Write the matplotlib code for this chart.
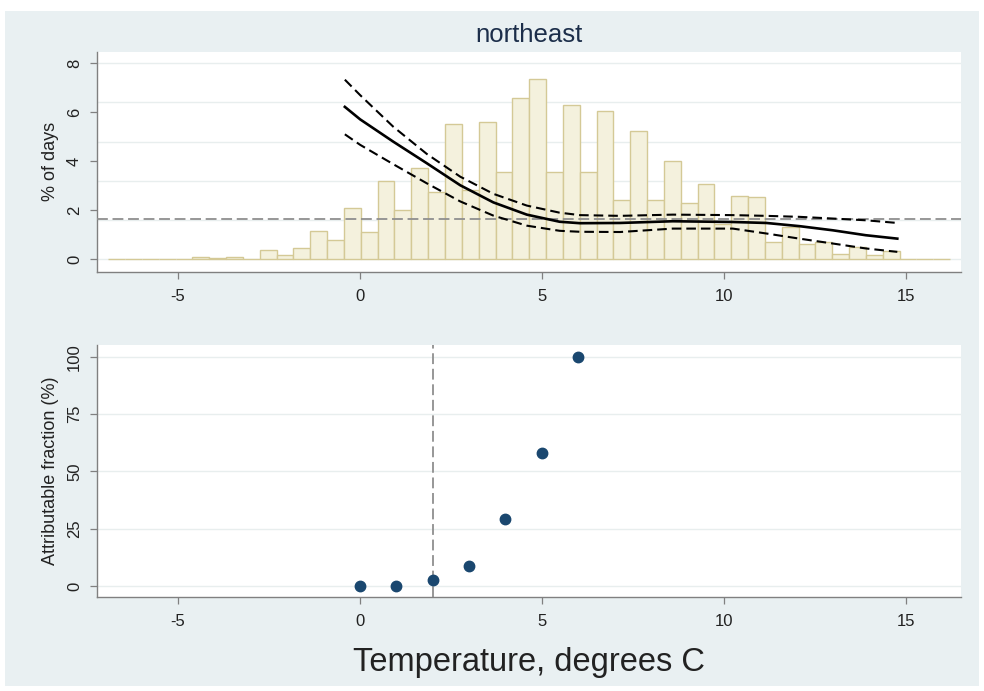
import numpy as np
import matplotlib
matplotlib.use("Agg")
import matplotlib.pyplot as plt
from matplotlib.patches import Rectangle

plt.rcParams['font.family'] = ['Liberation Sans', 'DejaVu Sans']

# ---------------- data ----------------
bin_start = -6.91
bin_width = 0.4626
pct_days = [0, 0, 0, 0, 0, 0.11, 0.05, 0.10, 0.02, 0.38,
            0.19, 0.46, 1.14, 0.78, 2.11, 1.13, 3.20, 2.00, 3.71, 2.73,
            5.52, 2.83, 5.60, 3.58, 6.57, 7.35, 3.58, 6.30, 3.58, 6.05,
            2.42, 5.22, 2.42, 3.99, 2.31, 3.06, 1.45, 2.59, 2.54, 0.69,
            1.33, 0.63, 0.72, 0.22, 0.49, 0.19, 0.34, 0, 0, 0]

curve_x = [-0.41, 0.01, 0.92, 1.84, 2.76, 3.67, 4.59, 5.49, 6.05, 7.15,
           8.60, 10.25, 11.17, 12.08, 13.00, 13.90, 14.77]
curve_mid = [6.22, 5.71, 4.80, 3.92, 3.02, 2.32, 1.82, 1.53, 1.47, 1.48,
             1.55, 1.52, 1.48, 1.35, 1.18, 0.98, 0.84]
curve_hi = [7.33, 6.70, 5.41, 4.30, 3.37, 2.67, 2.19, 1.90, 1.80, 1.77,
            1.82, 1.80, 1.77, 1.73, 1.66, 1.59, 1.48]
curve_lo = [5.10, 4.67, 3.88, 3.10, 2.36, 1.78, 1.37, 1.16, 1.12, 1.11,
            1.25, 1.25, 1.05, 0.84, 0.64, 0.44, 0.30]
ref_level = 1.63

af_temp = [0, 1, 2, 3, 4, 5, 6]
af_pct = [0.0, 0.0, 2.5, 8.7, 29.2, 58.1, 100.0]
threshold_temp = 2

x_ticks = [-5, 0, 5, 10, 15]
top_yticks = [0, 2, 4, 6, 8]
top_grid = [0, 1.6, 3.2, 4.8, 6.4, 8.0]
bot_yticks = [0, 25, 50, 75, 100]

title = "northeast"
top_ylabel = "% of days"
bot_ylabel = "Attributable fraction (%)"
xlabel = "Temperature, degrees C"

# ---------------- styling ----------------
W, H = 984, 691
fig = plt.figure(figsize=(W / 100, H / 100), dpi=100)
fig.patch.set_facecolor('white')
bg = '#e9f0f2'
fig.add_artist(Rectangle((5 / W, 5 / H), (W - 10) / W, (H - 16) / H,
                         transform=fig.transFigure, facecolor=bg,
                         edgecolor='none', zorder=0))

spine_col = '#808080'
grid_col = '#e8eeee'
ref_col = '#8f8f8f'
navy = '#1a476f'

left = 97 / W
width = (961 - 97) / W
ax1 = fig.add_axes([left, (H - 271.7) / H, width, (271.7 - 52) / H])
ax2 = fig.add_axes([left, (H - 596.7) / H, width, (596.7 - 345) / H])

xlim = (-7.22, 16.52)


def style(ax):
    ax.set_facecolor('white')
    for s in ['top', 'right']:
        ax.spines[s].set_visible(False)
    for s in ['left', 'bottom']:
        ax.spines[s].set_color(spine_col)
        ax.spines[s].set_linewidth(1.0)
    ax.tick_params(axis='both', colors=spine_col, labelcolor='#222222',
                   length=4.8, width=0.9, labelsize=12)
    ax.tick_params(axis='x', pad=8)
    ax.tick_params(axis='y', pad=6)
    ax.set_xlim(*xlim)
    ax.set_xticks(x_ticks)
    ax.set_xticklabels([str(t) for t in x_ticks])


# ---------- top panel ----------
style(ax1)
ax1.set_ylim(-0.51, 8.46)
for g in top_grid:
    ax1.axhline(g, color=grid_col, lw=1.0, zorder=0.5)
edges = bin_start + bin_width * np.arange(len(pct_days))
ax1.bar(edges, pct_days, width=bin_width, align='edge',
        facecolor='#f4f1dd', edgecolor='#d4c996', linewidth=1.0, zorder=2)
ax1.axhline(ref_level, color=ref_col, lw=1.3, linestyle=(0, (6, 2.6)), zorder=3)
ax1.plot(curve_x, curve_hi, color='black', lw=1.5, linestyle=(0, (4.6, 2.4)), zorder=4)
ax1.plot(curve_x, curve_lo, color='black', lw=1.5, linestyle=(0, (4.6, 2.4)), zorder=4)
ax1.plot(curve_x, curve_mid, color='black', lw=1.9, zorder=5)
ax1.set_yticks(top_yticks)
ax1.set_yticklabels([str(t) for t in top_yticks], rotation=90, va='center')
ax1.set_ylabel(top_ylabel, fontsize=13, color='#222222', labelpad=6)
ax1.set_title(title, fontsize=18.5, color='#1c2e4a', pad=7)

# ---------- bottom panel ----------
style(ax2)
ax2.set_ylim(-4.7, 105.1)
for g in bot_yticks:
    ax2.axhline(g, color=grid_col, lw=1.0, zorder=0.5)
ax2.axvline(threshold_temp, color=ref_col, lw=1.3, linestyle=(0, (6, 2.6)), zorder=2)
ax2.plot(af_temp, af_pct, linestyle='none', marker='o', markersize=7.5,
         color=navy, zorder=3)
ax2.set_yticks(bot_yticks)
ax2.set_yticklabels([str(t) for t in bot_yticks], rotation=90, va='center')
ax2.set_ylabel(bot_ylabel, fontsize=13, color='#222222', labelpad=6)

fig.text((97 + 961) / 2 / W, 1 - 663 / H, xlabel, fontsize=23.5,
         color='#222222', ha='center', va='center')

fig.savefig('out.png', dpi=100, facecolor=fig.get_facecolor())
